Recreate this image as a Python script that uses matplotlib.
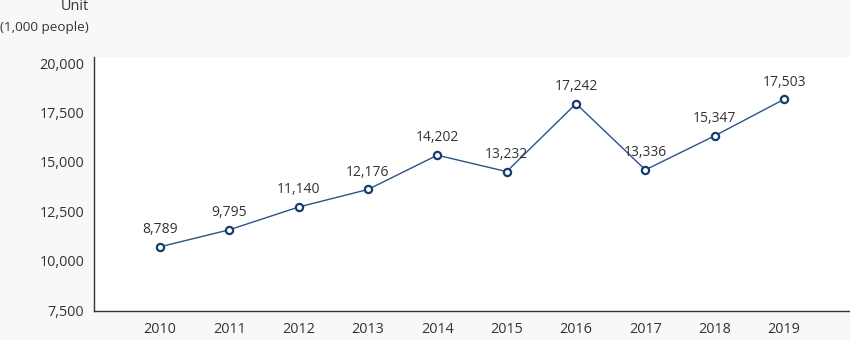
import matplotlib.pyplot as plt

plt.rcParams['font.family'] = ['Open Sans', 'DejaVu Sans']

years = ['2010', '2011', '2012', '2013', '2014', '2015', '2016', '2017', '2018', '2019']
visitors = [8789, 9795, 11140, 12176, 14202, 13232, 17242, 13336, 15347, 17503]
y_ticks = [7500, 10000, 12500, 15000, 17500, 20000]

text_color = '#333333'
line_color = '#2b5485'
marker_color = '#163d6e'

fig = plt.figure(figsize=(8.5, 3.4), dpi=100, facecolor='#f8f8f8')
ax = fig.add_axes([94 / 850, 29 / 340, 756 / 850, 254 / 340])
ax.set_facecolor('white')

# scale shown on the left axis
ax.set_ylim(7450, 20320)
ax.set_yticks(y_ticks)
ax.set_yticklabels([f'{t:,}' for t in y_ticks])
ax.set_xlim(-0.95, len(years) - 0.05)
ax.set_xticks(range(len(years)))
ax.set_xticklabels(years)
ax.tick_params(length=0, labelsize=10.4, colors=text_color, pad=8)
ax.tick_params(axis='y', pad=7)
for side in ['top', 'right']:
    ax.spines[side].set_visible(False)
for side in ['left', 'bottom']:
    ax.spines[side].set_color('#333333')
    ax.spines[side].set_linewidth(1.0)

# the series itself is drawn on its own scale
ax2 = ax.twinx()
ax2.set_ylim(5000, 20000)
ax2.set_yticks([])
for side in ax2.spines:
    ax2.spines[side].set_visible(False)

xs = list(range(len(years)))
ax2.plot(xs, visitors, color=line_color, linewidth=1.0, zorder=2)
ax2.plot(xs, visitors, linestyle='none', marker='o', markersize=5.2,
         markerfacecolor='white', markeredgecolor=marker_color,
         markeredgewidth=1.6, zorder=3)
for x, v in zip(xs, visitors):
    ax2.annotate(f'{v:,}', (x, v), xytext=(0, 7), textcoords='offset points',
                 ha='center', va='bottom', fontsize=10, color=text_color)

fig.text(89 / 850, 1 - 6 / 340, 'Unit', ha='right', va='center',
         fontsize=10.4, color=text_color)
fig.text(89 / 850, 1 - 28 / 340, '(1,000 people)', ha='right', va='center',
         fontsize=9.7, color=text_color)

fig.savefig('out.png', dpi=100, facecolor=fig.get_facecolor())
